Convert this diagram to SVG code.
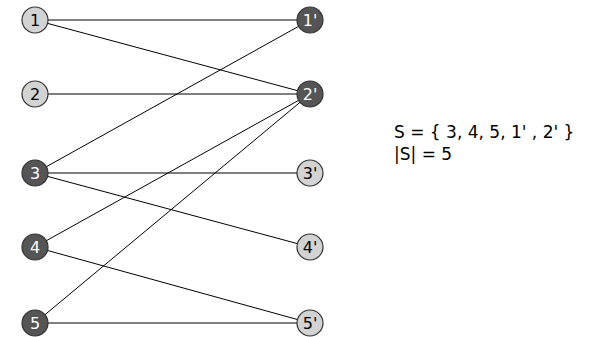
<svg xmlns="http://www.w3.org/2000/svg" width="591" height="337" viewBox="0 0 591 337">
  <style>
    .edge { stroke: #000; stroke-width: 1; fill: none; }
    .light circle { fill: #d3d3d3; stroke: #333; stroke-width: 1.2; }
    .dark circle { fill: #555; stroke: #333; stroke-width: 1.2; }
    .node text { font-family: "DejaVu Sans", sans-serif; font-size: 16px; text-anchor: middle; dominant-baseline: central; }
    .light text { fill: #000; }
    .dark text { fill: #fff; }
    .note { font-family: "DejaVu Sans", sans-serif; font-size: 17px; fill: #000; }
  </style>
  <rect width="591" height="337" fill="#fff"/>
  <g id="edges">
    <line class="edge" x1="35" y1="20" x2="310" y2="20"/>
    <line class="edge" x1="35" y1="20" x2="310" y2="94"/>
    <line class="edge" x1="35" y1="94" x2="310" y2="94"/>
    <line class="edge" x1="35" y1="173" x2="310" y2="20"/>
    <line class="edge" x1="35" y1="173" x2="310" y2="173"/>
    <line class="edge" x1="35" y1="173" x2="310" y2="247"/>
    <line class="edge" x1="35" y1="247" x2="310" y2="94"/>
    <line class="edge" x1="35" y1="247" x2="310" y2="323"/>
    <line class="edge" x1="35" y1="323" x2="310" y2="94"/>
    <line class="edge" x1="35" y1="323" x2="310" y2="323"/>
  </g>
  <g id="n1" class="node light"><circle cx="35" cy="20" r="13"/><text x="35" y="20">1</text></g>
  <g id="n2" class="node light"><circle cx="35" cy="94" r="13"/><text x="35" y="94">2</text></g>
  <g id="n3" class="node dark"><circle cx="35" cy="173" r="13"/><text x="35" y="173">3</text></g>
  <g id="n4" class="node dark"><circle cx="35" cy="247" r="13"/><text x="35" y="247">4</text></g>
  <g id="n5" class="node dark"><circle cx="35" cy="323" r="13"/><text x="35" y="323">5</text></g>
  <g id="m1" class="node dark"><circle cx="310" cy="20" r="13"/><text x="310" y="20">1'</text></g>
  <g id="m2" class="node dark"><circle cx="310" cy="94" r="13"/><text x="310" y="94">2'</text></g>
  <g id="m3" class="node light"><circle cx="310" cy="173" r="13"/><text x="310" y="173">3'</text></g>
  <g id="m4" class="node light"><circle cx="310" cy="247" r="13"/><text x="310" y="247">4'</text></g>
  <g id="m5" class="node light"><circle cx="310" cy="323" r="13"/><text x="310" y="323">5'</text></g>
  <g id="set">
    <text class="note" x="394" y="138">S = { 3, 4, 5, 1' , 2' }</text>
    <text class="note" x="394" y="160">|S| = 5</text>
  </g>
</svg>
